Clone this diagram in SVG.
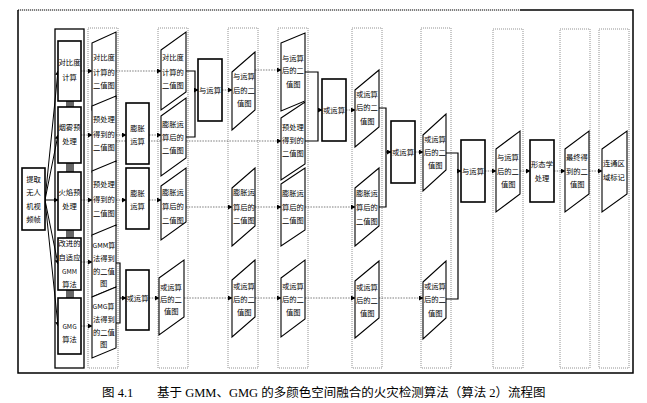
<svg xmlns="http://www.w3.org/2000/svg" width="647" height="403" viewBox="0 0 647 403">
<defs>
<marker id="ah" markerUnits="userSpaceOnUse" markerWidth="5" markerHeight="5" refX="4" refY="2.5" orient="auto"><path d="M0,0 L4.5,2.5 L0,5 Z" fill="#000"/></marker>
</defs>
<style>
text{font-family:"Noto Sans CJK SC","Liberation Sans",sans-serif;font-size:7.3px;fill:#000}
.c{text-anchor:middle}
.box{fill:#fff;stroke:#000;stroke-width:1.6}
.pg{fill:#fff;stroke:#000;stroke-width:1.1}
.col{fill:none;stroke:#777;stroke-width:0.8;stroke-dasharray:1 1}
.dl{fill:none;stroke:#444;stroke-width:0.7;stroke-dasharray:1.5 1.2;marker-end:url(#ah)}
.sl{fill:none;stroke:#000;stroke-width:1.2}
.sa{fill:none;stroke:#000;stroke-width:1;marker-end:url(#ah)}
.gb{fill:#666}
</style>
<rect width="647" height="403" fill="#fff"/>
<!-- frame -->
<path d="M18,10 V373 H633 V10 H520" fill="none" stroke="#000" stroke-width="1.5"/>
<path d="M18,10 H520" fill="none" stroke="#000" stroke-width="1.2" stroke-dasharray="1.2 0.8"/>
<!-- dotted columns -->
<g id="columns">
<rect class="col" x="88" y="28" width="30" height="340"/>
<rect class="col" x="158" y="28" width="30" height="340"/>
<rect class="col" x="228" y="28" width="30" height="340"/>
<rect class="col" x="278" y="28" width="30" height="340"/>
<rect class="col" x="352" y="28" width="30" height="340"/>
<rect class="col" x="421" y="28" width="30" height="340"/>
<rect class="col" x="493" y="29" width="30" height="339"/>
<rect class="col" x="560" y="29" width="30" height="339"/>
<rect class="col" x="599" y="29" width="30" height="339"/>
</g>
<!-- connectors -->
<g id="connectors">
<path class="sa" d="M45,200 L58,71"/>
<path class="sa" d="M45,200 L58,135"/>
<path class="sa" d="M45,200 L58,200"/>
<path class="sa" d="M45,200 L58,264"/>
<path class="sa" d="M45,200 L58,326"/>
<rect class="gb" x="66" y="101" width="8" height="6"/>
<rect class="gb" x="66" y="163" width="8" height="9"/>
<rect class="gb" x="66" y="230" width="8" height="8"/>
<rect class="gb" x="66" y="290" width="8" height="8"/>
<path class="dl" d="M81,71 H92"/>
<path class="dl" d="M81,135 H92"/>
<path class="dl" d="M81,200 H92"/>
<path class="dl" d="M81,262 H92"/>
<path class="dl" d="M81,326 H92"/>
<path class="dl" d="M116,135 H126"/>
<path class="dl" d="M116,200 H126"/>
<path class="sl" d="M116,263 H120 V323 H116"/>
<path class="sa" d="M120,298 H126"/>
<path class="dl" d="M116,71 H161"/>
<path class="dl" d="M149,135 H161"/>
<path class="dl" d="M149,200 H161"/>
<path class="dl" d="M149,298 H159"/>
<path class="dl" d="M116,141 H281"/>
<path class="sl" d="M186,71 H195 V137 H186"/>
<path class="sa" d="M195,90 H198"/>
<path class="dl" d="M222,90 H232"/>
<path class="dl" d="M255,70 H281"/>
<path class="dl" d="M186,207 H232"/>
<path class="dl" d="M255,207 H281"/>
<path class="dl" d="M305,207 H355"/>
<path class="dl" d="M184,298 H232"/>
<path class="dl" d="M255,298 H281"/>
<path class="dl" d="M305,298 H355"/>
<path class="dl" d="M379,298 H423"/>
<path class="sl" d="M305,72 H318 V141 H305"/>
<path class="sa" d="M318,110 H322"/>
<path class="dl" d="M346,110 H355"/>
<path class="sl" d="M379,108 H386 V207 H379"/>
<path class="sa" d="M386,152 H391"/>
<path class="dl" d="M415,152 H423"/>
<path class="sl" d="M446,153 H458 V299 H446"/>
<path class="sa" d="M458,171 H461"/>
<path class="dl" d="M485,171 H496"/>
<path class="dl" d="M520,171 H530"/>
<path class="dl" d="M554,171 H565"/>
<path class="dl" d="M589,171 H602"/>
</g>
<!-- left node -->
<g id="n-src"><rect class="box" x="22" y="168" width="23" height="62"/>
<text class="c" x="33.5" y="182">提取</text><text class="c" x="33.5" y="195">无人</text><text class="c" x="33.5" y="209">机视</text><text class="c" x="33.5" y="222">频帧</text></g>
<g id="n-stack"><rect x="55" y="29" width="29" height="339" fill="none" stroke="#000" stroke-width="1.3"/></g>
<g id="n-b1"><rect class="box" x="58" y="41" width="23" height="60"/><text class="c" x="69.5" y="65">对比度</text><text class="c" x="69.5" y="80">计算</text></g>
<g id="n-b2"><rect class="box" x="58" y="107" width="23" height="56"/><text class="c" x="69.5" y="130">烟雾预</text><text class="c" x="69.5" y="144">处理</text></g>
<g id="n-b3"><rect class="box" x="58" y="172" width="23" height="58"/><text class="c" x="69.5" y="195">火焰预</text><text class="c" x="69.5" y="209">处理</text></g>
<g id="n-b4"><rect class="box" x="58" y="238" width="23" height="52"/><text class="c" x="69.5" y="246">改进的</text><text class="c" x="69.5" y="260">自适应</text><text class="c" x="69.5" y="274" style="font-size:6.5px">GMM</text><text class="c" x="69.5" y="287">算法</text></g>
<g id="n-b5"><rect class="box" x="58" y="298" width="23" height="56"/><text class="c" x="69.5" y="329" style="font-size:6.5px">GMG</text><text class="c" x="69.5" y="342">算法</text></g>
<!-- column 1 -->
<g id="p1"><path class="pg" d="M92,43 L116,32 L116,99 L92,110 Z"/><text x="93" y="60">对比度</text><text x="93" y="75">计算的</text><text x="93" y="88">二值图</text></g>
<g id="p2"><path class="pg" d="M92,106 L116,96 L116,162 L92,172 Z"/><text x="93" y="122">预处理</text><text x="93" y="137">得到的</text><text x="93" y="150">二值图</text></g>
<g id="p3"><path class="pg" d="M92,171 L116,161 L116,226 L92,236 Z"/><text x="93" y="187">预处理</text><text x="93" y="202">得到的</text><text x="93" y="216">二值图</text></g>
<g id="p4"><path class="pg" d="M92,235 L116,225 L116,287 L92,297 Z"/><text x="92.5" y="248" style="font-size:6.8px">GMM算</text><text x="93" y="261">法得到</text><text x="93" y="274">的二值</text><text x="100" y="286">图</text></g>
<g id="p5"><path class="pg" d="M92,297 L116,287 L116,348 L92,358 Z"/><text x="92.5" y="309" style="font-size:6.8px">GMG算</text><text x="93" y="322">法得到</text><text x="93" y="335">的二值</text><text x="100" y="347">图</text></g>
<!-- ops col -->
<g id="o1"><rect class="box" x="126" y="103" width="23" height="61"/><text class="c" x="137.5" y="131">膨胀</text><text class="c" x="137.5" y="144">运算</text></g>
<g id="o2"><rect class="box" x="126" y="168" width="23" height="61"/><text class="c" x="137.5" y="196">膨胀</text><text class="c" x="137.5" y="209">运算</text></g>
<g id="o3"><rect class="box" x="126" y="270" width="23" height="60"/><text class="c" x="137.5" y="301">或运算</text></g>
<!-- column 2 -->
<g id="q1"><path class="pg" d="M161,50 L186,32 L186,92 L161,110 Z"/><text x="162" y="60">对比度</text><text x="162" y="75">计算的</text><text x="162" y="88">二值图</text></g>
<g id="q2"><path class="pg" d="M161,116 L186,98 L186,158 L161,176 Z"/><text x="162" y="127">膨胀运</text><text x="162" y="140">算后的</text><text x="162" y="153">二值图</text></g>
<g id="q3"><path class="pg" d="M161,186 L186,168 L186,222 L161,240 Z"/><text x="162" y="195">膨胀运</text><text x="162" y="209">算后的</text><text x="162" y="223">二值图</text></g>
<g id="q4"><path class="pg" d="M159,278 L184,260 L184,317 L159,335 Z"/><text x="160" y="290">或运算</text><text x="160" y="302">后的二</text><text x="164" y="314">值图</text></g>
<g id="o4"><rect class="box" x="198" y="59" width="24" height="62"/><text class="c" x="210" y="93">与运算</text></g>
<!-- column 3 -->
<g id="r1"><path class="pg" d="M232,72 L255,52 L255,110 L232,130 Z"/><text x="233" y="79">与运算</text><text x="233" y="93">后的二</text><text x="237" y="106">值图</text></g>
<g id="r2"><path class="pg" d="M232,188 L255,168 L255,226 L232,246 Z"/><text x="233" y="195">膨胀运</text><text x="233" y="210">算后的</text><text x="233" y="223">二值图</text></g>
<g id="r3"><path class="pg" d="M232,280 L255,260 L255,317 L232,337 Z"/><text x="233" y="289">或运算</text><text x="233" y="302">后的二</text><text x="237" y="315">值图</text></g>
<!-- column 4 -->
<g id="s1"><path class="pg" d="M281,43 L305,33 L305,101 L281,111 Z"/><text x="282" y="61">与运算</text><text x="282" y="73">后的二</text><text x="286" y="87">值图</text></g>
<g id="s2"><path class="pg" d="M281,118 L305,102 L305,164 L281,180 Z"/><text x="282" y="130">预处理</text><text x="282" y="143">得到的</text><text x="282" y="156">二值图</text></g>
<g id="s3"><path class="pg" d="M281,184 L305,168 L305,230 L281,246 Z"/><text x="282" y="196">膨胀运</text><text x="282" y="210">算后的</text><text x="282" y="223">二值图</text></g>
<g id="s4"><path class="pg" d="M281,278 L305,260 L305,319 L281,337 Z"/><text x="282" y="289">或运算</text><text x="282" y="302">后的二</text><text x="286" y="315">值图</text></g>
<g id="o5"><rect class="box" x="322" y="79" width="24" height="62"/><text class="c" x="334" y="113">或运算</text></g>
<!-- column 5 -->
<g id="t1"><path class="pg" d="M355,90 L379,70 L379,127 L355,147 Z"/><text x="356" y="97">或运算</text><text x="356" y="110">后的二</text><text x="360" y="124">值图</text></g>
<g id="t2"><path class="pg" d="M355,188 L379,168 L379,226 L355,246 Z"/><text x="356" y="196">膨胀运</text><text x="356" y="210">算后的</text><text x="356" y="224">二值图</text></g>
<g id="t3"><path class="pg" d="M355,281 L379,261 L379,318 L355,338 Z"/><text x="356" y="290">或运算</text><text x="356" y="303">后的二</text><text x="360" y="316">值图</text></g>
<g id="o6"><rect class="box" x="391" y="121" width="24" height="62"/><text class="c" x="403" y="155">或运算</text></g>
<!-- column 6 -->
<g id="u1"><path class="pg" d="M423,135 L446,114 L446,170 L423,191 Z"/><text x="424" y="142">或运算</text><text x="424" y="155">后的二</text><text x="428" y="168">值图</text></g>
<g id="u2"><path class="pg" d="M423,282 L446,261 L446,318 L423,339 Z"/><text x="424" y="289">或运算</text><text x="424" y="302">后的二</text><text x="428" y="316">值图</text></g>
<g id="o7"><rect class="box" x="461" y="140" width="24" height="62"/><text class="c" x="473" y="174">与运算</text></g>
<!-- column 7-9 -->
<g id="v1"><path class="pg" d="M496,149 L520,131 L520,194 L496,212 Z"/><text x="497" y="160">与运算</text><text x="497" y="174">后的二</text><text x="501" y="187">值图</text></g>
<g id="o8"><rect class="box" x="530" y="140" width="24" height="62"/><text class="c" x="542" y="167">形态学</text><text class="c" x="542" y="181">处理</text></g>
<g id="w1"><path class="pg" d="M565,149 L589,131 L589,194 L565,212 Z"/><text x="566" y="160">最终得</text><text x="566" y="174">到的二</text><text x="570" y="187">值图</text></g>
<g id="x1"><path class="pg" d="M602,149 L627,131 L627,194 L602,212 Z"/><text x="603" y="166">连通区</text><text x="603" y="180">域标记</text></g>
<text x="102" y="397" style="font-family:'Liberation Serif','Noto Sans CJK SC',serif;font-size:12.5px">图 4.1</text>
<text x="157" y="397" style="font-family:'Liberation Serif','Noto Sans CJK SC',serif;font-size:12.5px">基于 GMM、GMG 的多颜色空间融合的火灾检测算法（算法 2）流程图</text>
</svg>
